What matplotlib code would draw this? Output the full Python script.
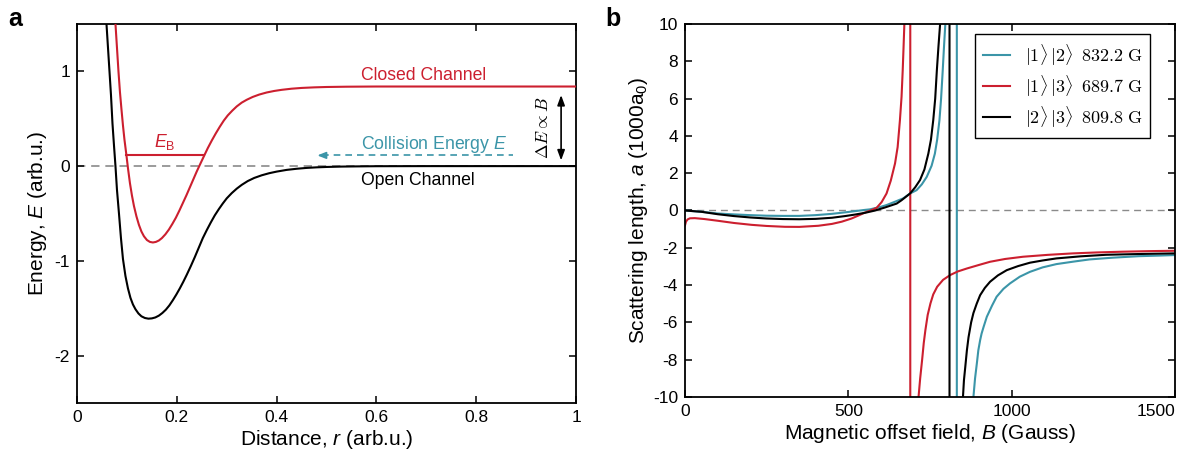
import matplotlib
matplotlib.use('Agg')
import matplotlib.pyplot as plt
from matplotlib.font_manager import FontProperties

plt.rcParams['font.family'] = ['Liberation Sans', 'DejaVu Sans']
plt.rcParams['mathtext.fontset'] = 'custom'
plt.rcParams['mathtext.rm'] = 'Liberation Sans'
plt.rcParams['mathtext.it'] = 'Liberation Sans:italic'
plt.rcParams['mathtext.bf'] = 'Liberation Sans:bold'
plt.rcParams['axes.unicode_minus'] = False

red = '#CC1F2F'
teal = '#3B95A8'

# ---- panel a : molecular potentials
open_r = [0.059, 0.062, 0.065, 0.068, 0.071, 0.074, 0.077, 0.080, 0.084, 0.088,
          0.092, 0.097, 0.102, 0.107, 0.112, 0.117, 0.123, 0.129, 0.136, 0.143,
          0.150, 0.157, 0.164, 0.171, 0.178, 0.185, 0.192, 0.199, 0.206, 0.213,
          0.220, 0.228, 0.236, 0.244, 0.252, 0.260, 0.268, 0.276, 0.284, 0.292,
          0.300, 0.310, 0.320, 0.330, 0.342, 0.355, 0.370, 0.385, 0.400, 0.420,
          0.440, 0.460, 0.480, 0.500, 0.530, 0.560, 0.600, 0.700, 1.000]
open_E = [1.50, 1.25, 1.00, 0.75, 0.45, 0.22, 0.00, -0.25, -0.50, -0.76,
          -0.98, -1.16, -1.29, -1.39, -1.46, -1.51, -1.555, -1.585, -1.603, -1.61,
          -1.607, -1.597, -1.578, -1.55, -1.515, -1.47, -1.415, -1.355, -1.29, -1.22,
          -1.145, -1.055, -0.96, -0.86, -0.76, -0.675, -0.595, -0.52, -0.455, -0.395,
          -0.34, -0.285, -0.238, -0.198, -0.158, -0.125, -0.097, -0.075, -0.058, -0.04,
          -0.028, -0.019, -0.013, -0.009, -0.005, -0.003, -0.001, 0.0, 0.0]

closed_r = [0.077, 0.080, 0.083, 0.086, 0.089, 0.092, 0.095, 0.099, 0.102, 0.106,
            0.110, 0.114, 0.119, 0.124, 0.129, 0.134, 0.140, 0.146, 0.152, 0.158,
            0.164, 0.170, 0.177, 0.184, 0.191, 0.198, 0.205, 0.212, 0.219, 0.226,
            0.233, 0.240, 0.248, 0.255, 0.262, 0.270, 0.278, 0.286, 0.294, 0.302,
            0.311, 0.320, 0.330, 0.340, 0.352, 0.365, 0.380, 0.395, 0.410, 0.430,
            0.450, 0.475, 0.500, 0.540, 0.600, 0.700, 1.000]
closed_E = [1.50, 1.25, 1.00, 0.78, 0.60, 0.43, 0.28, 0.113, -0.02, -0.18,
            -0.31, -0.42, -0.53, -0.62, -0.69, -0.74, -0.78, -0.80, -0.806, -0.80,
            -0.785, -0.76, -0.72, -0.67, -0.61, -0.545, -0.47, -0.39, -0.31, -0.225,
            -0.14, -0.055, 0.035, 0.113, 0.19, 0.27, 0.345, 0.415, 0.48, 0.535,
            0.585, 0.63, 0.67, 0.70, 0.73, 0.755, 0.777, 0.793, 0.805, 0.817,
            0.825, 0.831, 0.835, 0.838, 0.84, 0.84, 0.84]

eb_r = [0.099, 0.255]
eb_E = [0.113, 0.113]

r_ticks = [0, 0.2, 0.4, 0.6, 0.8, 1.0]
r_tick_labels = ['0', '0.2', '0.4', '0.6', '0.8', '1']
E_ticks = [-2, -1, 0, 1]
E_tick_labels = ['-2', '-1', '0', '1']

# ---- panel b : Li-6 scattering lengths, poles included
B_12 = [0, 50, 100, 150, 200, 250, 300, 350, 400, 450, 500, 550, 566, 600, 617,
        640, 668, 690, 709, 725, 740, 755, 765, 772, 779, 784, 789, 793, 797, 800,
        832.2, 832.2,
        880, 883, 888, 893.5, 898, 903.6, 908, 914, 924, 940, 954, 975, 995, 1025, 1056, 1095,
        1137, 1190, 1238, 1310, 1390, 1450, 1500]
a_12 = [0, -0.07, -0.16, -0.21, -0.25, -0.28, -0.29, -0.29, -0.25, -0.18, -0.08, 0.03, 0.06, 0.2, 0.29,
        0.45, 0.65, 0.92, 1.09, 1.4, 1.8, 2.4, 3.05, 3.8, 4.84, 6.0, 7.5, 8.8, 10.0, 11.5,
        12, -12,
        -11, -10, -9.0, -8.2, -7.5, -6.95, -6.6, -6.25, -5.7, -5.1, -4.625, -4.2, -3.91, -3.55, -3.29, -3.05,
        -2.875, -2.74, -2.625, -2.53, -2.45, -2.42, -2.39]

B_13 = [0, 3, 8, 15, 30, 60, 100, 150, 204, 250, 306, 350, 408, 450, 480, 510,
        531, 550, 571, 587, 602, 617, 630, 643, 651, 658, 663, 666.5, 669, 671.6, 674,
        689.7, 689.7,
        713, 715, 720, 726, 731, 736, 743, 751.5, 760, 772, 790, 812, 835, 863, 900, 934,
        980, 1035, 1110, 1188, 1260, 1340, 1420, 1500]
a_13 = [-0.8, -0.6, -0.48, -0.42, -0.41, -0.46, -0.55, -0.67, -0.77, -0.83, -0.875, -0.88, -0.82, -0.72, -0.6, -0.43,
        -0.27, -0.12, 0.02, 0.15, 0.45, 0.91, 1.6, 2.52, 3.4, 4.84, 6.1, 7.5, 8.7, 10.0, 12,
        12, -12,
        -11, -10, -9.0, -8.0, -7.1, -6.41, -5.6, -4.98, -4.5, -4.09, -3.72, -3.46, -3.27, -3.11, -2.92, -2.75,
        -2.6, -2.48, -2.38, -2.30, -2.25, -2.21, -2.18, -2.16]

B_23 = [0, 50, 100, 150, 200, 250, 300, 350, 400, 450, 490, 520, 551, 580, 612,
        648, 663, 689, 705, 719.5, 733, 745, 753, 760, 766, 771, 776, 781, 784,
        809.8, 809.8,
        848, 851, 854, 858, 863, 868, 876, 883, 893, 903.6, 918, 934, 958, 985, 1020, 1056,
        1095, 1137, 1210, 1289, 1400, 1500]
a_23 = [0, -0.07, -0.2, -0.3, -0.375, -0.43, -0.46, -0.47, -0.45, -0.39, -0.30, -0.22, -0.125, -0.01, 0.16,
        0.37, 0.55, 0.91, 1.25, 1.63, 2.2, 3.05, 3.8, 4.84, 6.0, 7.5, 8.8, 10.0, 11.5,
        12, -12,
        -11, -10, -9.1, -8.4, -7.5, -6.8, -6.0, -5.5, -5.0, -4.54, -4.15, -3.82, -3.48, -3.2, -2.98, -2.8,
        -2.68, -2.57, -2.46, -2.375, -2.33, -2.30]

labels_b = [r'$|1\rangle\,|2\rangle\;\;832.2\;\mathrm{G}$',
            r'$|1\rangle\,|3\rangle\;\;689.7\;\mathrm{G}$',
            r'$|2\rangle\,|3\rangle\;\;809.8\;\mathrm{G}$']
B_ticks = [0, 500, 1000, 1500]
B_tick_labels = ['0', '500', '1000', '1500']
a_ticks = [-10, -8, -6, -4, -2, 0, 2, 4, 6, 8, 10]

tick_fs = 12.5
label_fs = 15
text_fs = 12.7

fig = plt.figure(figsize=(11.89, 4.55), dpi=100)

# ================= panel a
ax1 = fig.add_axes([0.0648, 0.1143, 0.4197, 0.833])
ax1.axhline(0, color='#8a8a8a', ls=(0, (5, 3.5)), lw=1.2, zorder=1)
ax1.plot(open_r, open_E, color='black', lw=1.5, zorder=3)
ax1.plot(closed_r, closed_E, color=red, lw=1.5, zorder=3)
ax1.plot(eb_r, eb_E, color=red, lw=1.5, zorder=3)

ax1.set_xlim(0, 1)
ax1.set_ylim(-2.5, 1.5)
ax1.set_xticks(r_ticks)
ax1.set_xticklabels(r_tick_labels)
ax1.set_yticks(E_ticks)
ax1.set_yticklabels(E_tick_labels)
ax1.set_xlabel('Distance, $r$ (arb.u.)', fontsize=label_fs, labelpad=2)
ax1.set_ylabel('Energy, $E$ (arb.u.)', fontsize=label_fs, labelpad=4)

ax1.text(0.57, 0.96, 'Closed Channel', color=red, fontsize=text_fs, ha='left', va='center')
ax1.text(0.57, 0.226, 'Collision Energy $E$', color=teal, fontsize=text_fs, ha='left', va='center')
ax1.text(0.57, -0.152, 'Open Channel', color='black', fontsize=text_fs, ha='left', va='center')
ax1.text(0.175, 0.25, r'$E_\mathrm{B}$', color=red, fontsize=text_fs, ha='center', va='center')
ax1.text(0.935, 0.41, r'$\Delta E \propto B$', color='black', fontsize=text_fs, rotation=90,
         ha='center', va='center', math_fontfamily='cm')

# collision energy arrow (dashed, pointing left)
ax1.plot([0.49, 0.873], [0.113, 0.113], color=teal, lw=1.2, ls=(0, (4, 3)))
ax1.annotate('', xy=(0.476, 0.113), xytext=(0.50, 0.113),
             arrowprops=dict(arrowstyle='-|>,head_length=0.5,head_width=0.2', color=teal, lw=1.2))
# energy offset double arrow
ax1.annotate('', xy=(0.97, 0.06), xytext=(0.97, 0.75),
             arrowprops=dict(arrowstyle='<|-|>,head_length=0.6,head_width=0.22', color='black', lw=1.2,
                             shrinkA=0, shrinkB=0))

# ================= panel b
ax2 = fig.add_axes([0.5761, 0.1275, 0.4121, 0.8198])
ax2.axhline(0, color='#8a8a8a', ls=(0, (5, 3.5)), lw=1.0, zorder=1)
ax2.plot(B_12, a_12, color=teal, lw=1.5, label=labels_b[0])
ax2.plot(B_13, a_13, color=red, lw=1.5, label=labels_b[1])
ax2.plot(B_23, a_23, color='black', lw=1.5, label=labels_b[2])

ax2.set_xlim(0, 1500)
ax2.set_ylim(-10, 10)
ax2.set_xticks(B_ticks)
ax2.set_xticklabels(B_tick_labels)
ax2.get_xticklabels()[-1].set_horizontalalignment('right')
ax2.set_yticks(a_ticks)
ax2.set_xlabel('Magnetic offset field, $B$ (Gauss)', fontsize=label_fs, labelpad=2)
ax2.set_ylabel('Scattering length, $a$ (1000a$_0$)', fontsize=label_fs, labelpad=2)

leg = ax2.legend(loc='upper right', bbox_to_anchor=(0.949, 0.973), borderaxespad=0,
                 prop=FontProperties(size=13, math_fontfamily='cm'),
                 handlelength=1.5, labelspacing=0.3, borderpad=0.45,
                 fancybox=False, framealpha=1, edgecolor='black')
leg.get_frame().set_linewidth(1.0)

for ax in (ax1, ax2):
    ax.tick_params(direction='in', top=True, right=True, length=5, width=1.1,
                   labelsize=tick_fs, pad=5)
    for s in ax.spines.values():
        s.set_linewidth(1.3)

fig.text(0.007, 0.985, 'a', fontsize=18, fontweight='bold', ha='left', va='top')
fig.text(0.509, 0.985, 'b', fontsize=18, fontweight='bold', ha='left', va='top')

plt.savefig('out.png', dpi=100)
